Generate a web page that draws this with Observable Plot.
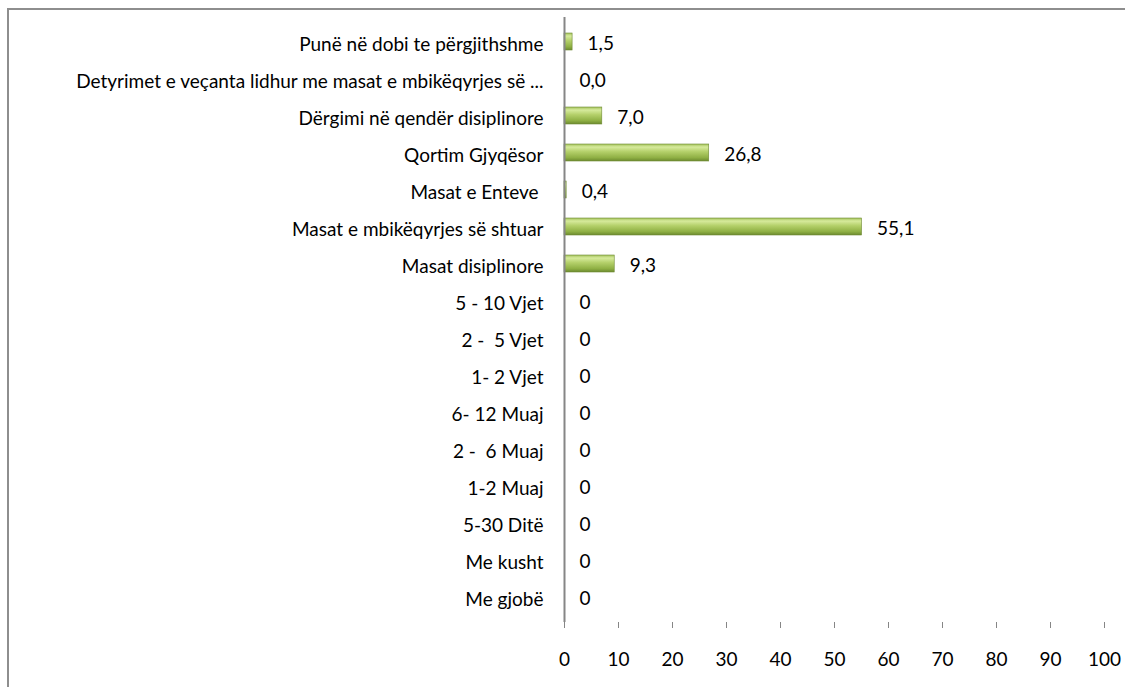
<!DOCTYPE html>
<html>
<head>
<meta charset="utf-8">
<script src="https://cdn.jsdelivr.net/npm/d3@7"></script>
<script src="https://cdn.jsdelivr.net/npm/@observablehq/plot@0.6"></script>
<style>
  html, body { margin: 0; padding: 0; background: #fff; }
  #wrap { position: relative; width: 1125px; height: 687px; overflow: hidden; }
  #frame { position: absolute; left: 7px; top: 8px; width: 1200px; height: 800px;
           border-left: 2px solid #8e8e8e; border-top: 2px solid #8e8e8e; box-sizing: border-box; }
  #chart { position: absolute; left: 0; top: 0; }
</style>
</head>
<body>
<div id="wrap"><div id="frame"></div><div id="chart"></div></div>
<script>
const categories = [
  "Punë në dobi te përgjithshme",
  "Detyrimet e veçanta lidhur me masat e mbikëqyrjes së ...",
  "Dërgimi në qendër disiplinore",
  "Qortim Gjyqësor",
  "Masat e Enteve ",
  "Masat e mbikëqyrjes së shtuar",
  "Masat disiplinore",
  "5 - 10 Vjet",
  "2 -  5 Vjet",
  "1- 2 Vjet",
  "6- 12 Muaj",
  "2 -  6 Muaj",
  "1-2 Muaj",
  "5-30 Ditë",
  "Me kusht",
  "Me gjobë"
];
const values = [1.5, 0.0, 7.0, 26.8, 0.4, 55.1, 9.3, 0, 0, 0, 0, 0, 0, 0, 0, 0];
const valueLabels = ["1,5", "0,0", "7,0", "26,8", "0,4", "55,1", "9,3", "0", "0", "0", "0", "0", "0", "0", "0", "0"];
const xTicks = [0, 10, 20, 30, 40, 50, 60, 70, 80, 90, 100];

const data = categories.map((c, i) => ({ cat: c, value: values[i], label: valueLabels[i] }));

const font = "Lato, 'Open Sans', sans-serif";

const chart = Plot.plot({
  width: 1125,
  height: 687,
  marginLeft: 564,
  marginRight: 21,
  marginTop: 17,
  marginBottom: 65,
  style: { fontFamily: font, fontSize: "19px", color: "#000", background: "transparent" },
  x: { domain: [0, 100], ticks: xTicks, tickSize: 6, tickPadding: 24, label: null, tickFormat: d => String(d) },
  y: { domain: categories, paddingInner: 0.53, paddingOuter: 0.265, tickSize: 0, tickPadding: 21, label: null },
  marks: [
    Plot.barX(data, { x: "value", y: "cat", fill: "url(#barGrad)", stroke: "#6f8a35", strokeWidth: 0.6 }),
    Plot.text(data, { x: "value", y: "cat", text: "label", dx: 15, dy: 2, textAnchor: "start", fontSize: 19, fill: "#000" }),
    Plot.ruleX([0], { stroke: "#868686", strokeWidth: 2 }),
    Plot.ruleY([0], { stroke: "#868686", strokeWidth: 2 })
  ]
});

// gradient definition for the bevelled Excel-like bars
const ns = "http://www.w3.org/2000/svg";
const defs = document.createElementNS(ns, "defs");
defs.innerHTML = `
  <linearGradient id="barGrad" x1="0" y1="0" x2="0" y2="1">
    <stop offset="0%" stop-color="#a3c25a"/>
    <stop offset="18%" stop-color="#d6ea9c"/>
    <stop offset="45%" stop-color="#b4d06a"/>
    <stop offset="80%" stop-color="#8fb044"/>
    <stop offset="100%" stop-color="#6c8a2f"/>
  </linearGradient>`;
chart.insertBefore(defs, chart.firstChild);

// axis styling: gray tick marks, y labels nudged slightly down like the original
chart.querySelectorAll("[aria-label='x-axis tick']").forEach(el => el.setAttribute("stroke", "#868686"));
chart.querySelectorAll("[aria-label='y-axis tick label']").forEach(el => el.setAttribute("transform", (el.getAttribute("transform") || "") + " translate(0,3)"));

document.getElementById("chart").appendChild(chart);
</script>
</body>
</html>
